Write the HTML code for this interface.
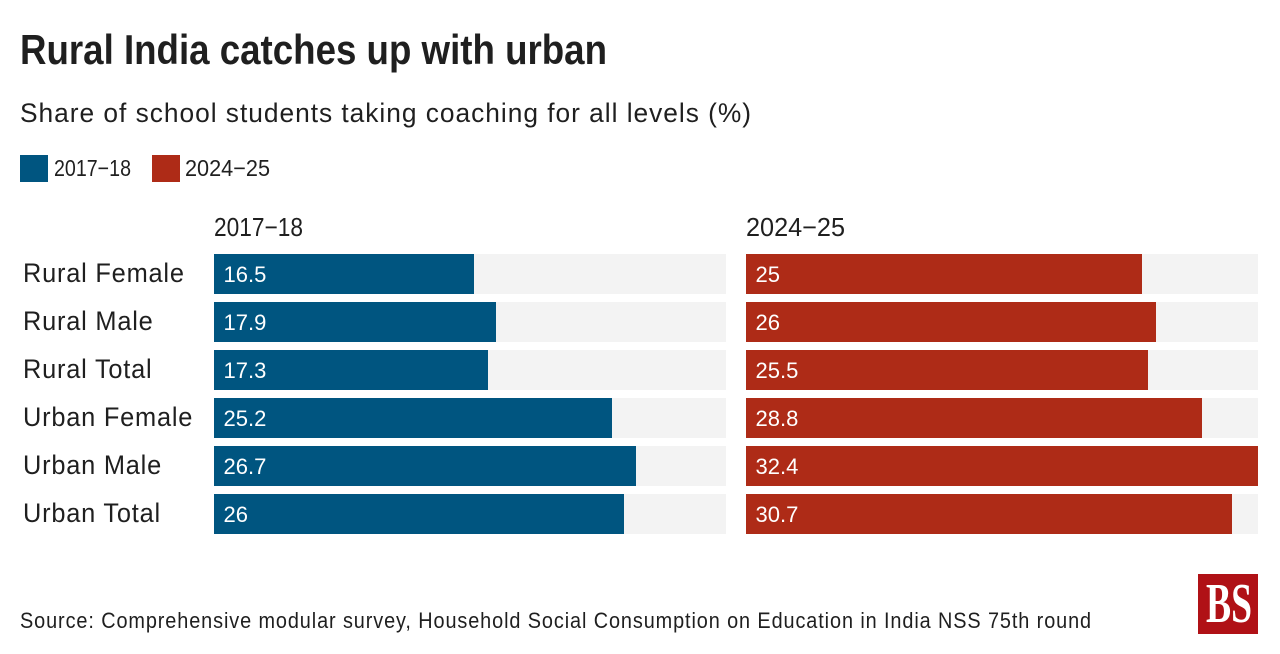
<!DOCTYPE html>
<html lang="en">
<head>
<meta charset="utf-8">
<title>Rural India catches up with urban</title>
<style>
html,body{margin:0;padding:0;background:#fff;}
svg{display:block;}
text{font-family:"Liberation Sans",sans-serif;fill:#1f1f1f;}
</style>
</head>
<body>
<svg id="chart" xmlns="http://www.w3.org/2000/svg" width="1280" height="654" viewBox="0 0 1280 654">
  <rect x="0" y="0" width="1280" height="654" fill="#ffffff"/>
  <text x="20" y="64" font-size="42" font-weight="700" textLength="587" lengthAdjust="spacingAndGlyphs">Rural India catches up with urban</text>
  <text x="20" y="122" font-size="27" letter-spacing="1" textLength="732" lengthAdjust="spacingAndGlyphs">Share of school students taking coaching for all levels (%)</text>
  <rect x="20" y="155" width="28" height="27" fill="#005580"/>
  <text x="54" y="176" font-size="23" textLength="77" lengthAdjust="spacingAndGlyphs">2017−18</text>
  <rect x="152" y="155" width="28" height="27" fill="#ae2b17"/>
  <text x="185" y="176" font-size="23" textLength="85" lengthAdjust="spacingAndGlyphs">2024−25</text>
  <text x="214" y="236" font-size="26" textLength="89" lengthAdjust="spacingAndGlyphs">2017−18</text>
  <text x="746" y="236" font-size="26" textLength="99" lengthAdjust="spacingAndGlyphs">2024−25</text>
  <g id="rows"></g>
  <text x="20" y="628" font-size="22" letter-spacing="1" textLength="1072" lengthAdjust="spacingAndGlyphs">Source: Comprehensive modular survey, Household Social Consumption on Education in India NSS 75th round</text>
  <rect x="1198" y="574" width="60" height="60" fill="#b01116"/>
  <text x="1229" y="622" font-size="56" font-weight="700" text-anchor="middle" textLength="46" lengthAdjust="spacingAndGlyphs" style="font-family:'Liberation Serif',serif;fill:#ffffff;">BS</text>
</svg>
<script>
const categories = ["Rural Female", "Rural Male", "Rural Total", "Urban Female", "Urban Male", "Urban Total"];
const values2017 = [16.5, 17.9, 17.3, 25.2, 26.7, 26];
const values2024 = [25, 26, 25.5, 28.8, 32.4, 30.7];
const domainMax = 32.4;

const NS = "http://www.w3.org/2000/svg";
const root = document.getElementById("rows");
const panelWidth = 512;
const rowHeight = 40;
const rowStep = 48;
const firstRowY = 254;

function xScale(v) { return Math.round(v / domainMax * panelWidth / 2) * 2; }
function yScale(i) { return firstRowY + i * rowStep; }

function svgEl(tag, attrs) {
  const el = document.createElementNS(NS, tag);
  Object.keys(attrs).forEach(function (k) { el.setAttribute(k, attrs[k]); });
  return el;
}

function drawPanel(values, originX, color, slug) {
  values.forEach(function (v, i) {
    const track = svgEl("rect", { x: originX, y: yScale(i), width: panelWidth, height: rowHeight, fill: "#f3f3f3" });
    
    
    root.appendChild(track);

    const bar = svgEl("rect", { x: originX, y: yScale(i), width: xScale(v), height: rowHeight, fill: color });
    
    
    bar.setAttribute('data-series', slug);
    root.appendChild(bar);

    const label = svgEl("text", { x: originX + 9.5, y: yScale(i) + 28, "font-size": 22, style: "fill:#ffffff" });
    
    
    label.textContent = String(v);
    root.appendChild(label);
  });
}

categories.forEach(function (c, i) {
  const t = svgEl("text", { transform: "translate(23," + (yScale(i) + 28) + ") scale(0.94,1)", "font-size": 27, "letter-spacing": 0.84 });
  
  
  t.textContent = c;
  root.appendChild(t);
});

drawPanel(values2017, 214, "#005580", "2017-18");
drawPanel(values2024, 746, "#ae2b17", "2024-25");
</script>
</body>
</html>
